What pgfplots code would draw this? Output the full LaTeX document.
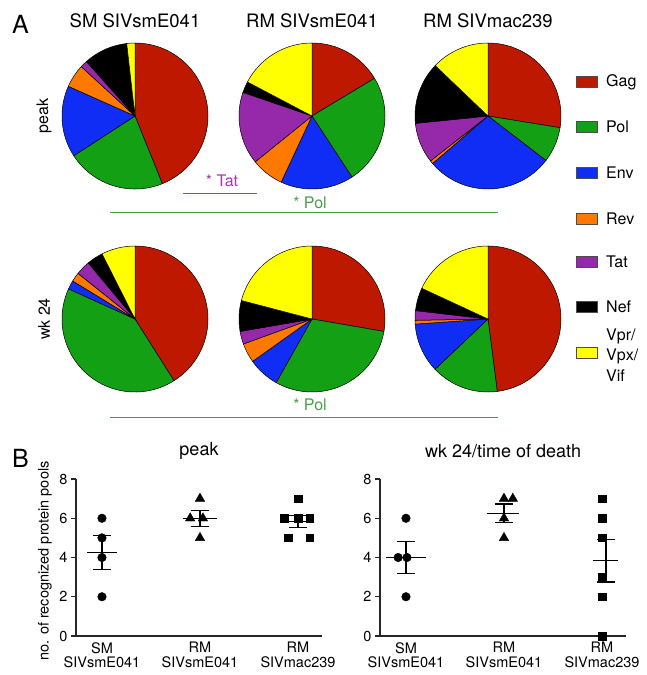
\documentclass[border=0pt]{standalone}
\usepackage{fontspec}
\setmainfont{TeX Gyre Heros}
\usepackage{pgfplots}
\pgfplotsset{compat=1.18}
\definecolor{gag}{RGB}{190,25,0}
\definecolor{pol}{RGB}{20,160,20}
\definecolor{env}{RGB}{15,45,245}
\definecolor{rev}{RGB}{255,120,0}
\definecolor{tat}{RGB}{150,40,170}
\definecolor{nef}{RGB}{0,0,0}
\definecolor{vpr}{RGB}{255,255,0}
\definecolor{tatann}{RGB}{165,55,175}
\definecolor{polann}{RGB}{70,160,70}
% one pie wedge: colour, start angle, end angle (degrees, clockwise from 12 o'clock)
\newcommand{\wdg}[3]{\addplot[draw=black, line width=0.5pt, fill=#1] coordinates {(0,0)} -- ++({90-#2}:73pt) arc[start angle={90-#2}, end angle={90-#3}, radius=73pt] -- cycle;}
\pgfplotsset{
  /pgf/number format/assume math mode=true,
  pie/.style={width=146pt, height=146pt, scale only axis, xmin=-1, xmax=1, ymin=-1, ymax=1, hide axis, clip=false, anchor=center},
  scat/.style={scale only axis, width=246pt, height=157pt, anchor=south west,
    xmin=0.735, xmax=3.245, ymin=0, ymax=8, clip=false,
    axis lines*=left, axis line style={line width=1.3pt, -, black!85},
    ytick={0,2,4,6,8}, xtick={1,2,3},
    xticklabels={{SM\\SIVsmE041},{RM\\SIVsmE041},{RM\\SIVmac239}},
    xticklabel style={align=center, font=\fontsize{14.5}{14.5}\selectfont, inner sep=1pt},
    yticklabel style={font=\fontsize{14.5}{14.5}\selectfont},
    tick align=outside, major tick length=5pt,
    ytick style={line width=1.3pt, black!85}, xtick style={draw=none},
    title style={at={(axis description cs:0.5,1)}, anchor=center, yshift=22pt, font=\fontsize{18}{18}\selectfont},
  },
  sem/.style={draw=none, mark=none, error bars/.cd, y dir=both, y explicit,
    error bar style={line width=1.3pt, black},
    error mark options={rotate=90, mark size=9pt, line width=1.3pt, black}},
}
\begin{document}
\begin{tikzpicture}[x=1pt, y=1pt]
\path[use as bounding box] (0,0) rectangle (646,-675);
% panel letters and titles
\node[anchor=base west, font=\fontsize{25}{25}\selectfont, inner sep=0pt] at (12,-33) {A};
\node[anchor=base west, font=\fontsize{25}{25}\selectfont, inner sep=0pt] at (12,-467) {B};
\node[anchor=base, font=\fontsize{18.5}{20}\selectfont] at (135,-27) {SM SIVsmE041};
\node[anchor=base, font=\fontsize{18.5}{20}\selectfont] at (312,-27) {RM SIVsmE041};
\node[anchor=base, font=\fontsize{18.5}{20}\selectfont] at (488,-27) {RM SIVmac239};
\node[rotate=90, font=\fontsize{16}{16}\selectfont] at (44,-116) {peak};
\node[rotate=90, font=\fontsize{16}{16}\selectfont] at (44,-319) {wk 24};

% ---- pies, row 1 (peak)
\begin{axis}[pie, at={(135pt,-116pt)}]
\wdg{gag}{0}{158}
\wdg{pol}{158}{237}
\wdg{env}{237}{294}
\wdg{rev}{294}{312.6}
\wdg{tat}{312.6}{318.3}
\wdg{nef}{318.3}{353.5}
\wdg{vpr}{353.5}{360}
\end{axis}
\begin{axis}[pie, at={(312pt,-116pt)}]
\wdg{gag}{0}{58.9}
\wdg{pol}{58.9}{146.8}
\wdg{env}{146.8}{205}
\wdg{rev}{205}{231.1}
\wdg{tat}{231.1}{288.9}
\wdg{nef}{288.9}{297.8}
\wdg{vpr}{297.8}{360}
\end{axis}
\begin{axis}[pie, at={(488pt,-116pt)}]
\wdg{gag}{0}{99.2}
\wdg{pol}{99.2}{127.5}
\wdg{env}{127.5}{229.4}
\wdg{rev}{229.4}{232}
\wdg{tat}{232}{264.2}
\wdg{nef}{264.2}{313.7}
\wdg{vpr}{313.7}{360}
\end{axis}
% ---- pies, row 2 (wk 24)
\begin{axis}[pie, at={(135pt,-319pt)}]
\wdg{gag}{0}{147.7}
\wdg{pol}{147.7}{294.4}
\wdg{env}{294.4}{301.4}
\wdg{rev}{301.4}{308.7}
\wdg{tat}{308.7}{320.2}
\wdg{nef}{320.2}{333.2}
\wdg{vpr}{333.2}{360}
\end{axis}
\begin{axis}[pie, at={(312pt,-319pt)}]
\wdg{gag}{0}{99.8}
\wdg{pol}{99.8}{209.4}
\wdg{env}{209.4}{234.5}
\wdg{rev}{234.5}{250}
\wdg{tat}{250}{260.2}
\wdg{nef}{260.2}{284.7}
\wdg{vpr}{284.7}{360}
\end{axis}
\begin{axis}[pie, at={(488pt,-319pt)}]
\wdg{gag}{0}{172.7}
\wdg{pol}{172.7}{226.5}
\wdg{env}{226.5}{266}
\wdg{rev}{266}{269}
\wdg{tat}{269}{276.6}
\wdg{nef}{276.6}{294.9}
\wdg{vpr}{294.9}{360}
\end{axis}

% significance annotations
\draw[tatann, line width=1pt] (183,-193) -- (257,-193);
\node[tatann, font=\fontsize{16}{16}\selectfont] at (222,-181) {* Tat};
\draw[polann, line width=1pt] (110,-212) -- (498,-212);
\node[polann, font=\fontsize{16}{16}\selectfont] at (310,-203) {* Pol};
\draw[polann, line width=1pt] (110,-417) -- (498,-417);
\node[polann, font=\fontsize{16}{16}\selectfont] at (310,-405) {* Pol};

% legend
\foreach \c/\y/\l in {gag/82/Gag, pol/127/Pol, env/173/Env, rev/219/Rev, tat/262/Tat, nef/307/Nef}{
  \filldraw[fill=\c, draw=black!70, line width=0.6pt] (576,-\y+5.5) rectangle (597,-\y-5.5);
  \node[anchor=west, font=\fontsize{16}{16}\selectfont, inner sep=0pt] at (606,-\y) {\l};
}
\filldraw[fill=vpr, draw=black!70, line width=0.6pt] (576,-347.5) rectangle (597,-358.5);
\node[anchor=west, align=left, font=\fontsize{16}{20.5}\selectfont, inner sep=0pt] at (606,-355) {Vpr/\\Vpx/\\Vif};

% ---- B: scatter plots
\begin{axis}[scat, at={(76pt,-636pt)}, title={peak},
  ylabel={no. of recognized protein pools},
  ylabel style={at={(axis description cs:-0.126,0.478)}, anchor=center, font=\fontsize{14.5}{14.5}\selectfont}]
\addplot[only marks, mark=*, mark size=4.3pt, black] coordinates {(1,6) (1,5) (1,4) (1,2)};
\addplot[only marks, mark=triangle*, mark size=5.5pt, black] coordinates {(2,7) (1.9,6) (2.03,6) (2,5)};
\addplot[only marks, mark=square*, mark size=3.8pt, black] coordinates {(3,7) (2.86,6) (3,6) (3.12,6) (2.9,5) (3.12,5)};
\addplot[black, line width=1.3pt] coordinates {(0.85,4.25) (1.15,4.25)};
\addplot[black, line width=1.3pt] coordinates {(1.83,6) (2.17,6)};
\addplot[black, line width=1.3pt] coordinates {(2.87,5.833) (3.13,5.833)};
\addplot[sem] coordinates {(1,4.25) +- (0,0.854)};
\addplot[sem] coordinates {(2,6) +- (0,0.408)};
\addplot[sem] coordinates {(3,5.833) +- (0,0.307)};
\end{axis}

\begin{axis}[scat, at={(380pt,-636pt)}, title={wk 24/time of death}]
\addplot[only marks, mark=*, mark size=4.3pt, black] coordinates {(1,6) (0.92,4) (1.01,4) (1,2)};
\addplot[only marks, mark=triangle*, mark size=5.5pt, black] coordinates {(2,7) (2.09,7) (2,6) (2,5)};
\addplot[only marks, mark=square*, mark size=3.8pt, black] coordinates {(3,7) (3,6) (3,5) (3,3) (3,2) (3,0)};
\addplot[black, line width=1.3pt] coordinates {(0.8,4) (1.2,4)};
\addplot[black, line width=1.3pt] coordinates {(1.83,6.25) (2.15,6.25)};
\addplot[black, line width=1.3pt] coordinates {(2.91,3.833) (3.16,3.833)};
\addplot[sem] coordinates {(1,4) +- (0,0.816)};
\addplot[sem] coordinates {(2,6.25) +- (0,0.479)};
\addplot[sem] coordinates {(3.04,3.833) +- (0,1.078)};
\end{axis}
\end{tikzpicture}
\end{document}
